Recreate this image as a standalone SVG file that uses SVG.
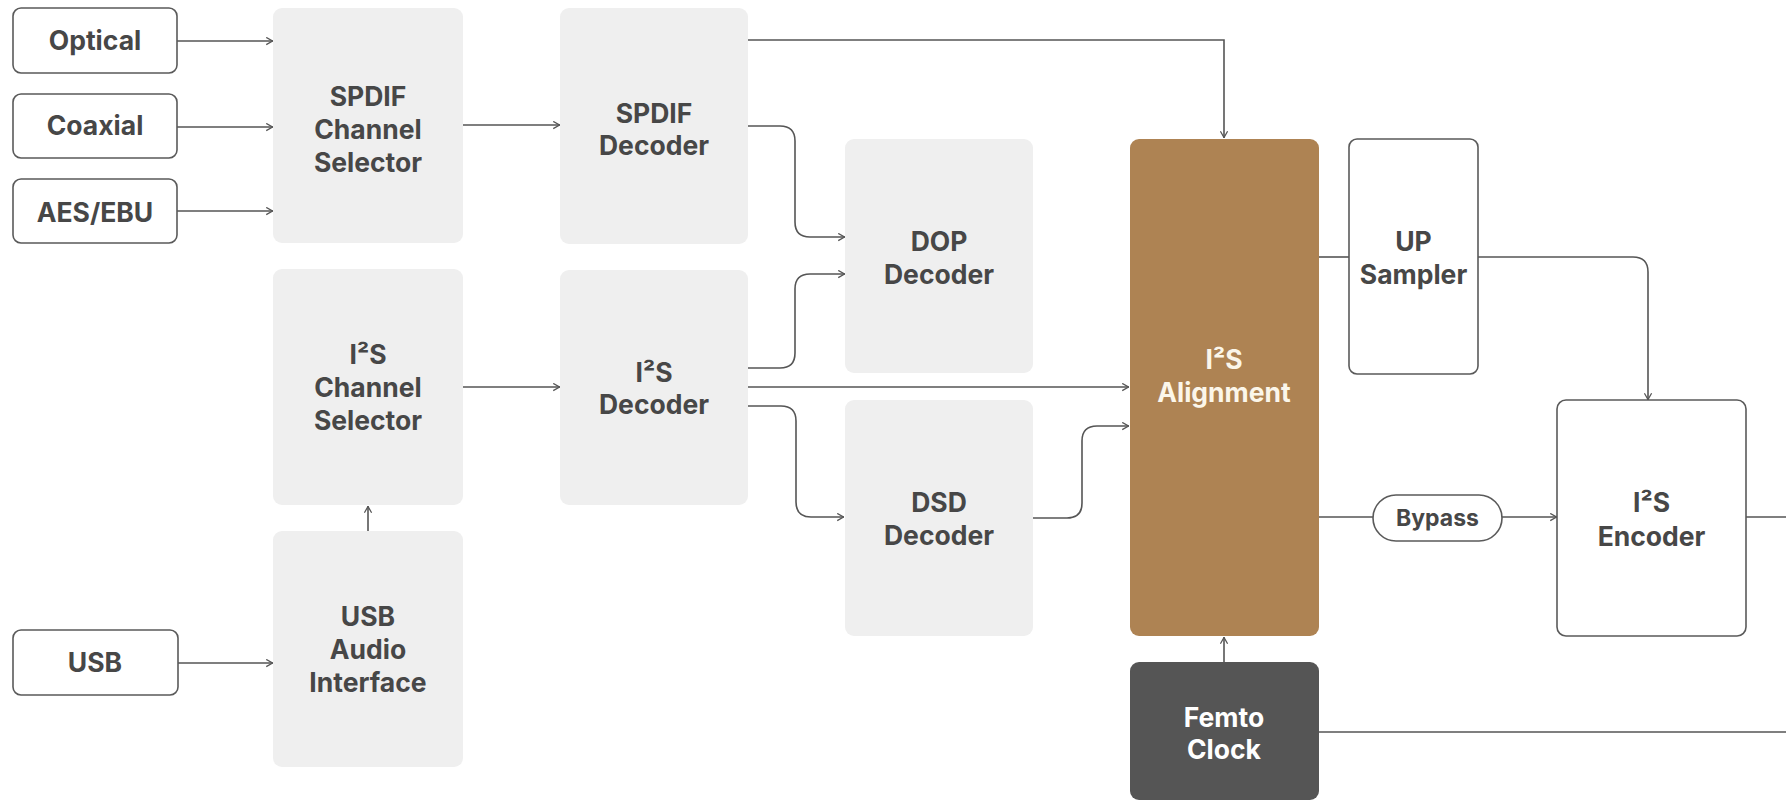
<svg xmlns="http://www.w3.org/2000/svg" width="1786" height="801" viewBox="0 0 1786 801">
<defs>
<marker id="arr" viewBox="0 0 10 10" refX="9.5" refY="5" markerWidth="9" markerHeight="9" markerUnits="userSpaceOnUse" orient="auto">
<path d="M2,1 L9,5 L2,9" fill="none" stroke="#555" stroke-width="1.4"/>
</marker>
</defs>
<style>
.in{fill:#fff;stroke:#5a5a5a;stroke-width:1.6}
.gb{fill:#efefef}
.wb{fill:#fff;stroke:#5a5a5a;stroke-width:1.6}
.al{fill:#ae8353}
.fc{fill:#555}
text{font-family:Inter,"Liberation Sans",Arial,sans-serif;font-weight:700;font-size:26.5px;fill:#474747;text-anchor:middle}
.lt{fill:#fbf6ea}
.wt{fill:#fff}
.sm{font-size:23px}
.c{fill:none;stroke:#555;stroke-width:1.6}
.ca{fill:none;stroke:#555;stroke-width:1.6;marker-end:url(#arr)}
</style>
<rect width="1786" height="801" fill="#fff"/>
<g id="connectors">
<path class="ca" d="M177,41 H273"/>
<path class="ca" d="M177,127 H273"/>
<path class="ca" d="M177,211 H273"/>
<path class="ca" d="M178,663 H273"/>
<path class="ca" d="M368,531 V506"/>
<path class="ca" d="M463,125 H560"/>
<path class="ca" d="M463,387 H560"/>
<path class="ca" d="M748,40 H1224 V138"/>
<path class="ca" d="M748,126 H780 Q795,126 795,141 V222 Q795,237 810,237 H845"/>
<path class="ca" d="M748,368 H780 Q795,368 795,353 V289 Q795,274 810,274 H845"/>
<path class="ca" d="M748,387 H1129"/>
<path class="ca" d="M748,406 H781 Q796,406 796,421 V502 Q796,517 811,517 H844"/>
<path class="ca" d="M1033,518 H1067 Q1082,518 1082,503 V441 Q1082,426 1097,426 H1129"/>
<path class="c" d="M1318,257 H1349"/>
<path class="ca" d="M1478,257 H1633 Q1648,257 1648,272 V400"/>
<path class="c" d="M1318,517 H1373"/>
<path class="ca" d="M1502,517 H1557"/>
<path class="c" d="M1746,517 H1786"/>
<path class="ca" d="M1224,662 V637"/>
<path class="c" d="M1318,732 H1786"/>
</g>
<g id="optical"><rect class="in" x="13" y="8" width="164" height="65" rx="8"/><text x="95" y="50">Optical</text></g>
<g id="coaxial"><rect class="in" x="13" y="94" width="164" height="64" rx="8"/><text x="95" y="135">Coaxial</text></g>
<g id="aesebu"><rect class="in" x="13" y="179" width="164" height="64" rx="8"/><text x="95" y="222">AES/EBU</text></g>
<g id="usb"><rect class="in" x="13" y="630" width="165" height="65" rx="8"/><text x="95" y="672">USB</text></g>
<g id="spdif-sel"><rect class="gb" x="273" y="8" width="190" height="235" rx="9"/><text x="368" y="106">SPDIF</text><text x="368" y="139">Channel</text><text x="368" y="172">Selector</text></g>
<g id="i2s-sel"><rect class="gb" x="273" y="269" width="190" height="236" rx="9"/><text x="368" y="364">I²S</text><text x="368" y="397">Channel</text><text x="368" y="430">Selector</text></g>
<g id="usb-audio"><rect class="gb" x="273" y="531" width="190" height="236" rx="9"/><text x="368" y="626">USB</text><text x="368" y="659">Audio</text><text x="368" y="692">Interface</text></g>
<g id="spdif-dec"><rect class="gb" x="560" y="8" width="188" height="236" rx="9"/><text x="654" y="123">SPDIF</text><text x="654" y="155">Decoder</text></g>
<g id="i2s-dec"><rect class="gb" x="560" y="270" width="188" height="235" rx="9"/><text x="654" y="382">I²S</text><text x="654" y="414">Decoder</text></g>
<g id="dop-dec"><rect class="gb" x="845" y="139" width="188" height="234" rx="9"/><text x="939" y="251">DOP</text><text x="939" y="284">Decoder</text></g>
<g id="dsd-dec"><rect class="gb" x="845" y="400" width="188" height="236" rx="9"/><text x="939" y="512">DSD</text><text x="939" y="545">Decoder</text></g>
<g id="i2s-align"><rect class="al" x="1130" y="139" width="189" height="497" rx="9"/><text class="lt" x="1224" y="369">I²S</text><text class="lt" x="1224" y="402">Alignment</text></g>
<g id="up-sampler"><rect class="wb" x="1349" y="139" width="129" height="235" rx="8"/><text x="1413.5" y="251">UP</text><text x="1413.5" y="284">Sampler</text></g>
<g id="bypass"><rect class="wb" x="1373" y="495" width="129" height="46" rx="23"/><text class="sm" x="1437.5" y="526">Bypass</text></g>
<g id="i2s-enc"><rect class="wb" x="1557" y="400" width="189" height="236" rx="9"/><text x="1651.5" y="512">I²S</text><text x="1651.5" y="546">Encoder</text></g>
<g id="femto"><rect class="fc" x="1130" y="662" width="189" height="138" rx="9"/><text class="wt" x="1224" y="727">Femto</text><text class="wt" x="1224" y="759">Clock</text></g>
</svg>
